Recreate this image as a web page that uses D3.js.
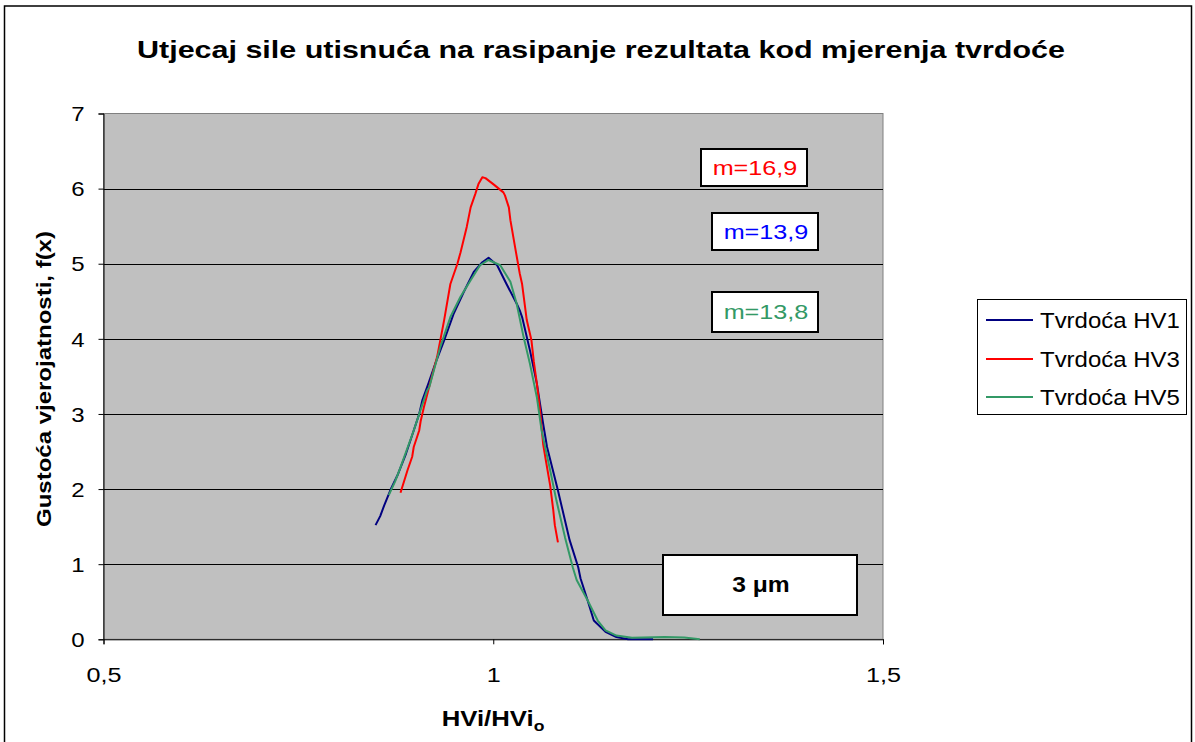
<!DOCTYPE html>
<html>
<head>
<meta charset="utf-8">
<script src="https://cdn.jsdelivr.net/npm/d3@7"></script>
<style>
  body { margin: 0; background: #fff; }
  svg { display: block; }
  text { font-family: "Liberation Sans", Arial, sans-serif; }
</style>
</head>
<body>
<svg id="chart" width="1195" height="742"></svg>
<script>
// ---- data ----
const titleText = "Utjecaj sile utisnuća na rasipanje rezultata kod mjerenja tvrdoće";
const xAxisTitle = "HVi/HVi";
const xAxisTitleSub = "o";
const yAxisTitle = "Gustoća vjerojatnosti, f(x)";
const xTicks = [0.5, 1, 1.5];
const xTickLabels = ["0,5", "1", "1,5"];
const yTicks = [0, 1, 2, 3, 4, 5, 6, 7];
const seriesNames = ["Tvrdoća HV1", "Tvrdoća HV3", "Tvrdoća HV5"];
const seriesColors = ["#000080", "#FF0000", "#339966"];

// HVi/HVio , f(x)
const hv1 = [[0.849,1.52],[0.855,1.64],[0.860,1.78],[0.869,2.01],[0.877,2.18],[0.888,2.47],[0.898,2.78],[0.905,3.00],[0.909,3.18],[0.917,3.41],[0.926,3.68],[0.937,3.98],[0.949,4.33],[0.962,4.62],[0.975,4.89],[0.986,5.02],[0.994,5.08],[1.005,4.98],[1.017,4.73],[1.030,4.47],[1.034,4.38],[1.037,4.29],[1.047,3.85],[1.056,3.40],[1.064,2.87],[1.069,2.56],[1.076,2.27],[1.083,1.98],[1.098,1.32],[1.109,0.96],[1.112,0.81],[1.121,0.52],[1.129,0.25],[1.144,0.10],[1.158,0.03],[1.173,0.0],[1.205,0.0]];
const hv3 = [[0.881,1.95],[0.890,2.25],[0.896,2.43],[0.898,2.56],[0.905,2.78],[0.907,2.91],[0.911,3.09],[0.920,3.45],[0.928,3.76],[0.937,4.25],[0.945,4.73],[0.954,5.00],[0.958,5.15],[0.966,5.49],[0.971,5.75],[0.977,5.93],[0.981,6.06],[0.986,6.15],[0.990,6.14],[1.000,6.06],[1.013,5.95],[1.015,5.91],[1.020,5.75],[1.022,5.58],[1.028,5.22],[1.034,4.87],[1.037,4.73],[1.043,4.25],[1.049,3.98],[1.052,3.70],[1.056,3.40],[1.060,3.05],[1.064,2.60],[1.068,2.35],[1.073,2.05],[1.077,1.72],[1.079,1.52],[1.083,1.29]];
const hv5 = [[0.866,1.92],[0.874,2.10],[0.881,2.29],[0.898,2.78],[0.915,3.31],[0.918,3.36],[0.932,3.89],[0.945,4.29],[0.958,4.56],[0.971,4.78],[0.983,4.98],[0.994,5.05],[1.009,4.98],[1.022,4.76],[1.030,4.47],[1.039,4.02],[1.047,3.67],[1.056,3.22],[1.062,2.78],[1.073,2.25],[1.081,1.85],[1.092,1.36],[1.102,0.96],[1.107,0.79],[1.121,0.52],[1.134,0.25],[1.144,0.12],[1.158,0.05],[1.178,0.02],[1.220,0.03],[1.245,0.025],[1.265,0.0]];

const mLabels = ["m=16,9", "m=13,9", "m=13,8"];
const mColors = ["#FF0000", "#0000FF", "#339966"];
const sizeLabel = "3 μm";

// ---- layout ----
const W = 1195, H = 742;
const plot = { left: 103.5, right: 883, top: 113.5, bottom: 639.3 };
const stretch = 1.2;   // horizontal widening applied to all lettering

const svg = d3.select("#chart");

// outer chart frame
svg.append("rect").attr("x", 0).attr("y", 0).attr("width", W).attr("height", H).attr("fill", "#fff");
svg.append("rect")
  .attr("x", 4.5).attr("y", 6).attr("width", 1187).attr("height", H + 20)
  .attr("fill", "none").attr("stroke", "#000").attr("stroke-width", 1.5);

const x = d3.scaleLinear().domain([0.5, 1.5]).range([plot.left, plot.right]);
const y = d3.scaleLinear().domain([0, 7]).range([plot.bottom, plot.top]);

// helper: text widened horizontally around its anchor point
function wideText(parent, px, py, str, opts) {
  const g = parent.append("g")
    .attr("transform", `translate(${px},${py}) scale(${opts.sx || stretch},1)`);
  const t = g.append("text")
    .attr("x", 0).attr("y", 0)
    .attr("text-anchor", opts.anchor || "start")
    .attr("font-size", opts.size)
    .attr("font-weight", opts.weight || "normal")
    .attr("fill", opts.fill || "#000")
    .text(str);
  return t;
}

// plot background
svg.append("rect")
  .attr("x", plot.left).attr("y", plot.top)
  .attr("width", plot.right - plot.left).attr("height", plot.bottom - plot.top)
  .attr("fill", "#C0C0C0").attr("stroke", "#808080").attr("stroke-width", 1);

// horizontal gridlines
svg.append("g").selectAll("line")
  .data(yTicks.filter(d => d > 0 && d < 7))
  .join("line")
  .attr("x1", plot.left).attr("x2", plot.right)
  .attr("y1", d => Math.round(y(d)) + 0.5).attr("y2", d => Math.round(y(d)) + 0.5)
  .attr("stroke", "#000").attr("stroke-width", 1);

// axes
const yAxis = d3.axisLeft(y).tickValues(yTicks).tickSize(5).tickPadding(0).tickFormat(d3.format("d"));
const gy = svg.append("g").attr("transform", `translate(${plot.left},0)`).call(yAxis);
gy.select(".domain").attr("stroke", "#000");
gy.selectAll(".tick line").attr("stroke", "#000");
gy.selectAll(".tick text")
  .attr("font-family", "Liberation Sans, Arial, sans-serif")
  .attr("font-size", 20).attr("fill", "#000")
  .attr("x", -19 / stretch).attr("dy", "0.36em")
  .attr("transform", `scale(${stretch},1)`);

const xAxis = d3.axisBottom(x).tickValues(xTicks).tickSize(5).tickPadding(23)
  .tickFormat((d, i) => xTickLabels[i]);
const gx = svg.append("g").attr("transform", `translate(0,${plot.bottom})`).call(xAxis);
gx.select(".domain").attr("stroke", "#000");
gx.selectAll(".tick line").attr("stroke", "#000");
gx.selectAll(".tick text")
  .attr("font-family", "Liberation Sans, Arial, sans-serif")
  .attr("font-size", 21).attr("fill", "#000")
  .attr("transform", `scale(${stretch},1)`);

// series lines
const line = d3.line().x(d => x(d[0])).y(d => y(d[1]));
[hv1, hv3, hv5].forEach((s, i) => {
  svg.append("path").datum(s)
    .attr("d", line)
    .attr("fill", "none")
    .attr("stroke", seriesColors[i])
    .attr("stroke-width", 2)
    .attr("stroke-linejoin", "round");
});

// slope labels in boxes
const mBoxes = [
  { x: 701, y: 149, w: 106, h: 37 },
  { x: 712, y: 213, w: 106, h: 37 },
  { x: 712, y: 292, w: 106, h: 40 }
];
mLabels.forEach((lab, i) => {
  const b = mBoxes[i];
  svg.append("rect").attr("x", b.x).attr("y", b.y).attr("width", b.w).attr("height", b.h)
    .attr("fill", "#fff").attr("stroke", "#000").attr("stroke-width", 2);
  wideText(svg, b.x + b.w / 2 + 1, b.y + b.h / 2 + 7, lab, { size: 21, anchor: "middle", fill: mColors[i] });
});

// indentation depth box
svg.append("rect").attr("x", 663).attr("y", 555).attr("width", 194).attr("height", 60)
  .attr("fill", "#fff").attr("stroke", "#000").attr("stroke-width", 2);
wideText(svg, 761, 592, sizeLabel, { size: 22, weight: "bold", anchor: "middle", sx: 1.12 });

// title
wideText(svg, 601, 58, titleText, { size: 24, weight: "bold", anchor: "middle", sx: 1.27 });

// y axis title
const gyt = svg.append("g").attr("transform", `translate(51,379) rotate(-90) scale(${stretch},1)`);
gyt.append("text").attr("text-anchor", "middle").attr("font-size", 20).attr("font-weight", "bold")
  .text(yAxisTitle);

// x axis title with subscript
const gxt = svg.append("g").attr("transform", `translate(493,726) scale(1.17,1)`);
const xt = gxt.append("text").attr("text-anchor", "middle").attr("font-size", 22).attr("font-weight", "bold");
xt.append("tspan").text(xAxisTitle);
xt.append("tspan").attr("font-size", 15).attr("dy", 5).text(xAxisTitleSub);

// legend
const legend = svg.append("g");
legend.append("rect").attr("x", 977.5).attr("y", 299.5).attr("width", 209).attr("height", 115)
  .attr("fill", "#fff").attr("stroke", "#000").attr("stroke-width", 1);
const legendY = [320, 359, 397];
seriesNames.forEach((name, i) => {
  legend.append("line").attr("x1", 986).attr("x2", 1033)
    .attr("y1", legendY[i]).attr("y2", legendY[i])
    .attr("stroke", seriesColors[i]).attr("stroke-width", 2);
  wideText(legend, 1040, legendY[i] + 8, name, { size: 22, sx: 1.09 });
});
</script>
</body>
</html>
